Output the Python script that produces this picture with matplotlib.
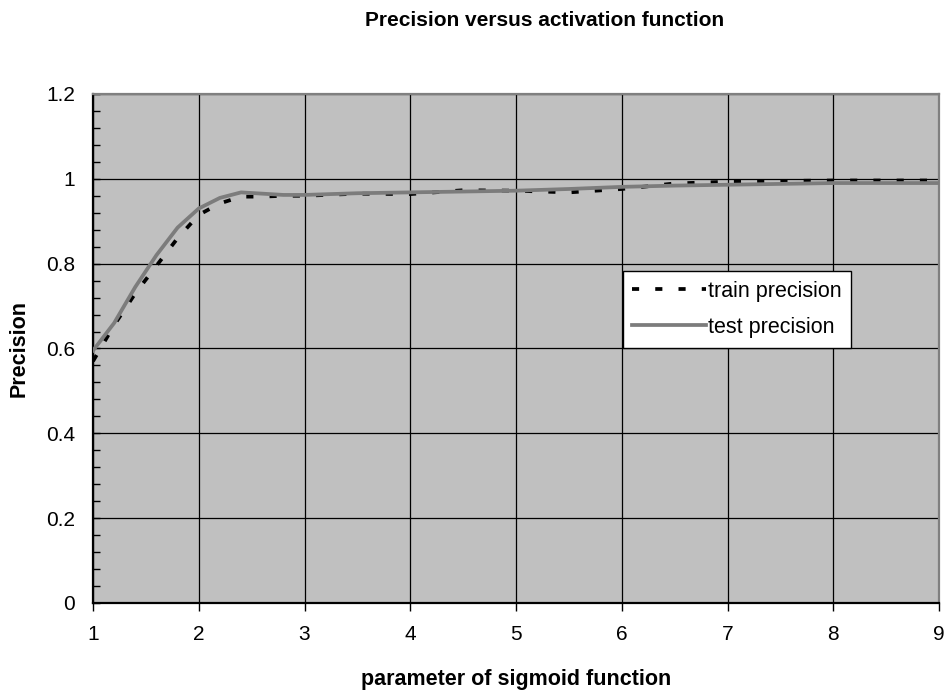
import matplotlib
matplotlib.use('Agg')
import matplotlib.pyplot as plt
from matplotlib.ticker import MultipleLocator

plt.rcParams['font.family'] = ['Liberation Sans', 'DejaVu Sans']

# values
sigmoid_param = [1.0, 1.2, 1.4, 1.6, 1.8, 2.0, 2.2, 2.4, 2.6, 2.8, 3.0, 3.5, 4.0,
                 4.5, 5.0, 5.5, 6.0, 6.5, 7.0, 7.5, 8.0, 8.5, 9.0]
train_precision = [0.57, 0.655, 0.73, 0.795, 0.86, 0.915, 0.942, 0.958, 0.958, 0.96,
                   0.96, 0.965, 0.964, 0.973, 0.972, 0.968, 0.976, 0.989, 0.993,
                   0.995, 0.996, 0.996, 0.996]
test_precision = [0.595, 0.66, 0.745, 0.82, 0.885, 0.93, 0.955, 0.968, 0.965, 0.962,
                  0.962, 0.966, 0.968, 0.970, 0.972, 0.976, 0.981, 0.984, 0.986,
                  0.988, 0.990, 0.990, 0.990]

fig = plt.figure(figsize=(9.47, 6.91), dpi=100)
ax = fig.add_axes([0.0982, 0.1274, 0.8934, 0.7366])
ax.set_facecolor('#C0C0C0')

ax.plot(sigmoid_param, train_precision, color='black', lw=2.7, dashes=(1.9, 4.3),
        label='train precision', zorder=3)
ax.plot(sigmoid_param, test_precision, color='#7c7c7c', lw=2.7,
        label='test precision', zorder=4)

ax.set_xlim(1, 9)
ax.set_ylim(0, 1.2)
ax.xaxis.set_major_locator(MultipleLocator(1))
ax.yaxis.set_minor_locator(MultipleLocator(0.04))
ax.set_yticks([0, 0.2, 0.4, 0.6, 0.8, 1, 1.2])
ax.set_yticklabels(['0', '0.2', '0.4', '0.6', '0.8', '1', '1.2'])
ax.grid(True, which='major', color='black', lw=0.9)
ax.set_axisbelow(True)

ax.tick_params(axis='x', direction='out', length=6, width=1, labelsize=15, pad=10)
ax.tick_params(axis='y', which='major', direction='in', length=5, width=1,
               labelsize=15, pad=13)
ax.tick_params(axis='y', which='minor', direction='in', length=5, width=1)

for s in ['left', 'bottom']:
    ax.spines[s].set_color('black')
    ax.spines[s].set_linewidth(1.6)
for s in ['top', 'right']:
    ax.spines[s].set_color('#808080')
    ax.spines[s].set_linewidth(1.6)

ax.set_xlabel('parameter of sigmoid function', fontsize=15.5, fontweight='bold', labelpad=18)
ax.set_ylabel('Precision', fontsize=15.5, fontweight='bold', labelpad=12)

fig.text(0.575, 0.971, 'Precision versus activation function', fontsize=15,
         fontweight='bold', ha='center', va='center')

leg = ax.legend(loc='upper left', bbox_to_anchor=(0.626, 0.652), fontsize=15.5,
                frameon=True, fancybox=False, framealpha=1, edgecolor='black',
                handlelength=3.4, handletextpad=0.1, borderpad=0.45, labelspacing=0.7,
                borderaxespad=0)
leg.get_frame().set_linewidth(1.0)

fig.savefig('out.png', dpi=100)
